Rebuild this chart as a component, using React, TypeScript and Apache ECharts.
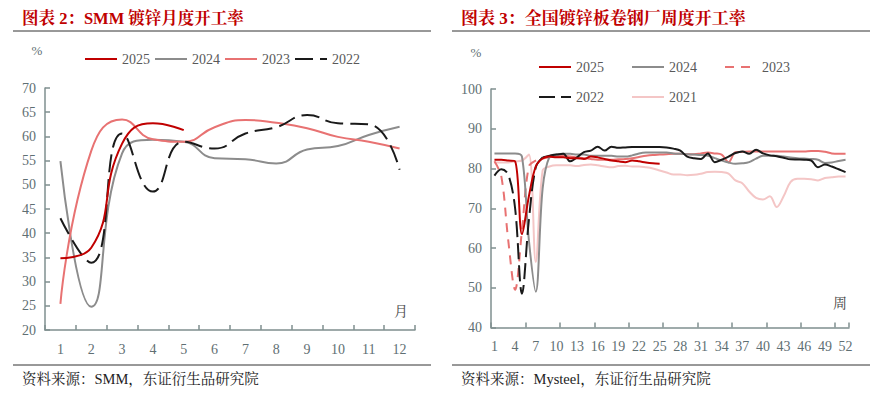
import React, { useEffect, useRef } from "react";
import * as echarts from "echarts";

// ---------- Left chart: SMM monthly galvanizing operating rate ----------
const months = ["1", "2", "3", "4", "5", "6", "7", "8", "9", "10", "11", "12"];
const m2025 = [34.8, 37.0, 58.5, 62.7, 61.3];
const m2024 = [54.9, 24.8, 56.5, 59.3, 58.9, 55.5, 55.3, 54.4, 57.3, 58.0, 60.3, 62.0];
const m2023 = [25.4, 57.0, 63.5, 59.4, 58.9, 61.9, 63.4, 62.8, 61.7, 59.9, 58.9, 57.5];
const m2022 = [43.1, 33.9, 60.6, 48.6, 58.9, 57.5, 60.6, 61.9, 64.4, 62.7, 62.5, 53.1];
const leftYTicks = { min: 20, max: 70, interval: 5 };

// ---------- Right chart: weekly operating rate ----------
const weeks = Array.from({ length: 52 }, (_, i) => String(i + 1));
const w2025 = [82.2, 82.2, 82.0, 81.8, 63.5, 73.0, 80.5, 82.5, 83.0, 82.8, 82.8, 82.6, 82.6, 82.4, 83.0,
  82.8, 82.4, 82.0, 81.8, 81.6, 82.0, 81.8, 81.5, 81.3, 81.2];
const w2024 = [83.8, 83.8, 83.8, 83.8, 83.0, 62.0, 49.0, 75.0, 83.0, 83.5, 83.7, 83.7, 83.5, 83.5, 83.2,
  83.2, 83.2, 83.2, 83.0, 83.0, 83.3, 83.8, 84.0, 84.0, 84.0, 84.0, 83.8, 83.7, 83.6, 83.5,
  83.4, 83.2, 82.6, 82.0, 81.5, 81.2, 81.3, 81.6, 82.5, 83.2, 83.2, 83.2, 83.0, 82.8, 82.6,
  82.5, 82.4, 82.2, 81.4, 81.5, 81.9, 82.2];
const w2023 = [81.8, 78.0, 62.0, 49.5, 64.5, 80.5, 82.0, 82.5, 82.8, 83.0, 83.2, 83.0, 82.8, 82.6, 82.4,
  82.2, 82.2, 82.2, 82.3, 82.4, 82.6, 82.9, 83.2, 83.4, 83.5, 83.6, 83.7, 83.7, 83.6, 83.6,
  83.8, 84.0, 83.8, 83.5, 81.6, 84.1, 84.2, 84.3, 84.3, 84.3, 84.3, 84.3, 84.3, 84.3, 84.3,
  84.3, 84.4, 84.4, 84.2, 83.8, 83.7, 83.7];
const w2022 = [78.2, 79.8, 78.5, 70.0, 48.5, 67.0, 80.3, 82.8, 83.2, 83.5, 83.7, 81.8, 82.8, 84.1, 84.5,
  85.5, 84.5, 85.5, 85.2, 85.3, 85.4, 85.4, 85.4, 85.4, 85.4, 85.3, 85.0, 84.5, 83.0, 82.6,
  82.4, 83.8, 81.6, 82.2, 83.0, 83.9, 84.3, 83.7, 84.7, 83.8, 83.3, 83.1, 82.7, 82.3, 82.25,
  82.2, 82.0, 80.3, 81.0, 80.5, 79.8, 79.1];
const w2021 = [81.5, 81.5, 81.5, 81.8, 82.0, 83.5, 56.5, 79.5, 80.5, 80.8, 80.8, 80.8, 80.6, 80.9, 81.0,
  80.8, 80.5, 80.3, 80.6, 80.7, 80.5, 80.5, 80.3, 80.0, 79.5, 79.0, 78.5, 78.5, 78.3, 78.4,
  78.7, 79.1, 79.2, 79.1, 78.7, 77.0, 76.3, 74.2, 72.6, 72.2, 73.0, 70.3, 73.0, 76.6, 77.4,
  77.4, 77.3, 77.0, 77.6, 77.8, 78.0, 78.0];
const rightYTicks = { min: 40, max: 100, interval: 10 };

const C_DARK = "#c00000";
const C_GRAY = "#8c8c8c";
const C_LIGHT = "#e87272";
const C_BLACK = "#1a1a1a";
const C_PINK = "#f4c6c6";
const AXIS_LINE = "#7f8f8f";
const LABEL = "#5f6f73";
const NUM_FONT = '"Liberation Serif", "DejaVu Serif", serif';
const CJK_FONT = '"Liberation Serif", "Noto Serif CJK SC", "Noto Sans CJK SC", serif';

function commonGraphic(title: string, titleSize: number, source: string, unitX: number, unitY: number, axisName: string, axisNameX: number, axisNameY: number) {
  return [
    { type: "text", x: 22, y: 18.5, style: { text: title, fill: "#c00000", font: `bold ${titleSize}px ${CJK_FONT}`, textVerticalAlign: "middle" } },
    { type: "line", shape: { x1: 13, y1: 31, x2: 431, y2: 31 }, style: { stroke: "#333", lineWidth: 1 } },
    { type: "line", shape: { x1: 13, y1: 365, x2: 431, y2: 365 }, style: { stroke: "#333", lineWidth: 1 } },
    { type: "text", x: 22, y: 379, style: { text: source, fill: "#222", font: `14.5px ${CJK_FONT}`, textVerticalAlign: "middle" } },
    { type: "text", x: unitX, y: unitY, style: { text: "%", fill: LABEL, font: `13px ${NUM_FONT}`, textAlign: "center", textVerticalAlign: "middle" } },
    { type: "text", x: axisNameX, y: axisNameY, style: { text: axisName, fill: "#444", font: `14px ${CJK_FONT}`, textAlign: "center", textVerticalAlign: "middle" } },
  ];
}

function axisCommon() {
  return {
    axisLine: { show: true, lineStyle: { color: AXIS_LINE, width: 1.5 } },
    axisTick: { show: true, inside: true, length: 5, lineStyle: { color: AXIS_LINE, width: 1.5 } },
    splitLine: { show: false },
  };
}

const legendItemStyle = { opacity: 0, color: "rgba(0,0,0,0)", borderWidth: 0 };

function leftOption() {
  const line = (name: string, data: number[], color: string, type: any = "solid") => ({
    name, type: "line", data, smooth: true, symbol: "none",
    lineStyle: { color, width: 2, type }, itemStyle: { color },
  });
  return {
    animation: false,
    backgroundColor: "#fff",
    grid: { left: 45, right: 24, top: 88, bottom: 66 },
    legend: {
      left: 79, top: 47, itemWidth: 32, itemHeight: 14, itemGap: 4,
      itemStyle: legendItemStyle,
      data: ["2025", "2024", "2023", "2022"],
      textStyle: { fontSize: 14, color: "#595959", fontFamily: NUM_FONT },
    },
    xAxis: {
      type: "category", data: months, boundaryGap: true, ...axisCommon(),
      axisLabel: { interval: 0, margin: 12, fontSize: 14, color: LABEL, fontFamily: NUM_FONT },
    },
    yAxis: {
      type: "value", ...leftYTicks, ...axisCommon(),
      axisLabel: { margin: 9, fontSize: 14, color: LABEL, fontFamily: NUM_FONT },
    },
    graphic: commonGraphic("图表 2：SMM 镀锌月度开工率", 16.5, "资料来源：SMM，东证衍生品研究院", 37, 50, "月", 401, 311),
    series: [
      line("2024", m2024, C_GRAY),
      line("2023", m2023, C_LIGHT),
      line("2022", m2022, C_BLACK, [18, 7]),
      line("2025", m2025, C_DARK),
    ],
  };
}

function rightOption() {
  const SPLIT = 7;
  const head = (a: number[]) => a.map((v, i) => (i <= SPLIT ? v : "-"));
  const tail = (a: number[]) => a.map((v, i) => (i >= SPLIT ? v : "-"));
  const line = (name: string, data: any[], color: string, type: any = "solid") => ({
    name, type: "line", data, smooth: 0.35, symbol: "none",
    lineStyle: { color, width: 2, type }, itemStyle: { color },
  });
  const legendBase = {
    left: 94, itemWidth: 32, itemHeight: 14, itemGap: 27,
    itemStyle: legendItemStyle,
    textStyle: { fontSize: 14, color: "#595959", fontFamily: NUM_FONT },
  };
  return {
    animation: false,
    backgroundColor: "#fff",
    grid: { left: 52, right: 29, top: 89, bottom: 68.5 },
    legend: [
      { ...legendBase, top: 55, data: ["2025", "2024", "2023"] },
      { ...legendBase, top: 85, data: ["2022", "2021"] },
    ],
    xAxis: {
      type: "category", data: weeks, boundaryGap: true, ...axisCommon(),
      axisTick: { ...axisCommon().axisTick, interval: 4 },
      axisLabel: { interval: 2, margin: 12, fontSize: 14, color: LABEL, fontFamily: NUM_FONT },
    },
    yAxis: {
      type: "value", ...rightYTicks, ...axisCommon(),
      axisLabel: { margin: 9, fontSize: 14, color: LABEL, fontFamily: NUM_FONT },
    },
    graphic: commonGraphic("图表 3：全国镀锌板卷钢厂周度开工率", 17, "资料来源：Mysteel，东证衍生品研究院", 37, 52, "周", 401, 303),
    series: [
      line("2021", w2021, C_PINK),
      line("2023", head(w2023), C_LIGHT, [9, 7]),
      line("2023 ", tail(w2023), C_LIGHT),
      line("2024", w2024, C_GRAY),
      line("2022", head(w2022), C_BLACK, [16, 6]),
      line("2022 ", tail(w2022), C_BLACK),
      line("2025", w2025, C_DARK),
    ],
  };
}

function Chart({ option, left }: { option: any; left: number }) {
  const ref = useRef<HTMLDivElement>(null);
  useEffect(() => {
    if (!ref.current) return;
    const chart = echarts.init(ref.current, null, { renderer: "svg" });
    chart.setOption(option);
    return () => chart.dispose();
  }, []);
  return <div ref={ref} style={{ position: "absolute", left, top: 0, width: 439, height: 396 }} />;
}

export default function App() {
  return (
    <div style={{ position: "absolute", left: 0, top: 0, width: 878, height: 396, background: "#fff" }}>
      <Chart option={leftOption()} left={0} />
      <Chart option={rightOption()} left={439} />
    </div>
  );
}
